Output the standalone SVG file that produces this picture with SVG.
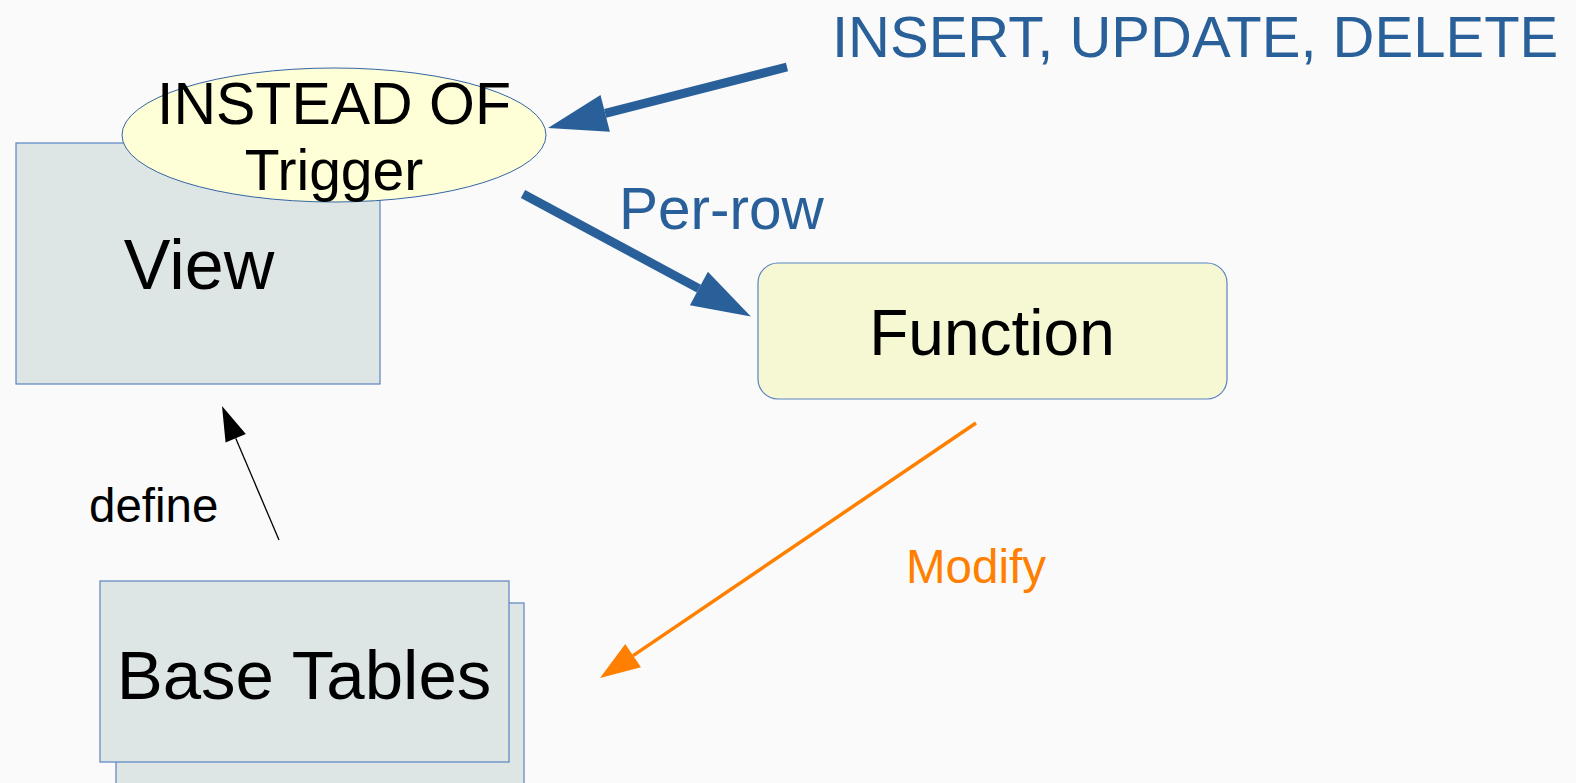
<svg xmlns="http://www.w3.org/2000/svg" width="1576" height="783" viewBox="0 0 1576 783">
<style>
text{font-family:"Liberation Sans",Arial,sans-serif}
.box{fill:#dee6e5;stroke:#5b83c0;stroke-width:1.2}
.lbl{fill:#000;text-anchor:middle}
.blue{fill:#2a6099}
</style>
<defs>
<marker id="hBlue" markerUnits="userSpaceOnUse" markerWidth="60" markerHeight="40" refX="0" refY="19" orient="auto" overflow="visible"><path d="M0,0 L59,19 L0,38 z" fill="#2a6099"/></marker>
<marker id="hOrange" markerUnits="userSpaceOnUse" markerWidth="42" markerHeight="30" refX="0" refY="14" orient="auto" overflow="visible"><path d="M0,0 L40,14 L0,28 z" fill="#ff8000"/></marker>
<marker id="hBlack" markerUnits="userSpaceOnUse" markerWidth="36" markerHeight="24" refX="0" refY="11" orient="auto" overflow="visible"><path d="M0,0 L35,11 L0,22 z" fill="#000"/></marker>
</defs>
<rect width="1576" height="783" fill="#fafafa"/>
<g id="view">
<rect class="box" x="16" y="143" width="364" height="241"/>
<text class="lbl" x="199" y="289" font-size="70">View</text>
</g>
<g id="trigger">
<ellipse cx="334" cy="135" rx="212" ry="67" fill="#ffffd7" stroke="#3465a4" stroke-width="1"/>
<text class="lbl" x="334" y="124" font-size="59">INSTEAD OF</text>
<text class="lbl" x="334" y="190" font-size="57">Trigger</text>
</g>
<g id="function">
<rect x="758" y="263" width="469" height="136" rx="20" fill="#f6f8d4" stroke="#5b83c0" stroke-width="1.2"/>
<text class="lbl" x="992" y="355" font-size="64">Function</text>
</g>
<g id="base-tables">
<rect class="box" x="116" y="603" width="408" height="190"/>
<rect class="box" x="100" y="581" width="409" height="181"/>
<text class="lbl" x="304" y="699" font-size="69">Base Tables</text>
</g>
<g id="labels">
<text class="blue" x="832" y="57" font-size="58">INSERT, UPDATE, DELETE</text>
<text class="blue" x="619" y="229" font-size="58.5">Per-row</text>
<text x="906" y="583" font-size="47.5" fill="#ff8000">Modify</text>
<text x="89" y="522" font-size="47.5" fill="#000">define</text>
</g>
<g id="connectors" fill="none">
<line x1="787" y1="67" x2="605.2" y2="113.4" stroke="#2a6099" stroke-width="9" marker-end="url(#hBlue)"/>
<line x1="523" y1="194" x2="698.9" y2="288.6" stroke="#2a6099" stroke-width="9" marker-end="url(#hBlue)"/>
<line x1="976" y1="423" x2="633.1" y2="655.6" stroke="#ff8000" stroke-width="3.5" marker-end="url(#hOrange)"/>
<line x1="279" y1="540" x2="235.7" y2="438.2" stroke="#000" stroke-width="1.3" marker-end="url(#hBlack)"/>
</g>
</svg>
